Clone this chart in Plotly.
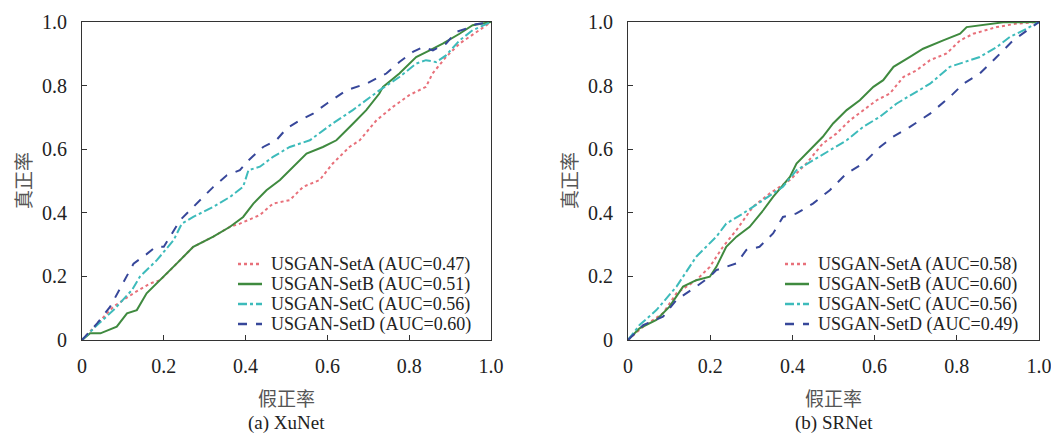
import plotly.graph_objects as go

# ---------- data: (a) XuNet ----------
xu_a_fpr = [0, 0.037, 0.077, 0.126, 0.167, 0.191, 0.232, 0.272, 0.321, 0.362, 0.386, 0.435, 0.467, 0.508, 0.541, 0.581, 0.613, 0.654, 0.679, 0.72, 0.76, 0.8, 0.841, 0.857, 0.89, 0.923, 0.971, 1]
xu_a_tpr = [0, 0.05, 0.105, 0.147, 0.178, 0.188, 0.241, 0.293, 0.325, 0.356, 0.366, 0.393, 0.429, 0.44, 0.482, 0.503, 0.555, 0.607, 0.628, 0.691, 0.733, 0.77, 0.796, 0.838, 0.89, 0.932, 0.974, 1]
xu_b_fpr = [0, 0.02, 0.045, 0.085, 0.11, 0.134, 0.158, 0.191, 0.232, 0.272, 0.321, 0.362, 0.394, 0.419, 0.451, 0.484, 0.516, 0.549, 0.589, 0.622, 0.663, 0.695, 0.727, 0.736, 0.776, 0.817, 0.85, 0.882, 0.923, 0.955, 1]
xu_b_tpr = [0, 0.021, 0.021, 0.042, 0.084, 0.094, 0.147, 0.188, 0.241, 0.293, 0.325, 0.356, 0.387, 0.429, 0.471, 0.503, 0.545, 0.586, 0.607, 0.628, 0.681, 0.723, 0.775, 0.796, 0.838, 0.89, 0.911, 0.932, 0.963, 0.99, 1]
xu_c_fpr = [0, 0.037, 0.077, 0.122, 0.142, 0.183, 0.224, 0.244, 0.272, 0.321, 0.362, 0.394, 0.407, 0.435, 0.467, 0.508, 0.557, 0.613, 0.662, 0.695, 0.727, 0.776, 0.817, 0.841, 0.866, 0.89, 0.923, 0.955, 1]
xu_c_tpr = [0, 0.047, 0.094, 0.157, 0.2, 0.251, 0.314, 0.366, 0.387, 0.419, 0.45, 0.482, 0.534, 0.545, 0.576, 0.607, 0.628, 0.681, 0.723, 0.754, 0.785, 0.827, 0.869, 0.88, 0.874, 0.895, 0.942, 0.974, 1]
xu_d_fpr = [0, 0.037, 0.069, 0.11, 0.126, 0.158, 0.18, 0.2, 0.22, 0.24, 0.289, 0.32, 0.354, 0.386, 0.407, 0.443, 0.475, 0.5, 0.533, 0.565, 0.598, 0.646, 0.695, 0.744, 0.776, 0.809, 0.833, 0.858, 0.89, 0.915, 0.939, 0.963, 1]
xu_d_tpr = [0, 0.052, 0.105, 0.2, 0.24, 0.27, 0.293, 0.293, 0.335, 0.377, 0.44, 0.48, 0.518, 0.534, 0.565, 0.607, 0.628, 0.665, 0.691, 0.712, 0.743, 0.785, 0.806, 0.838, 0.874, 0.906, 0.921, 0.911, 0.932, 0.969, 0.979, 0.993, 1]

# ---------- data: (b) SRNet ----------
sr_a_fpr = [0, 0.037, 0.085, 0.118, 0.166, 0.199, 0.231, 0.264, 0.304, 0.345, 0.394, 0.434, 0.474, 0.507, 0.54, 0.572, 0.605, 0.637, 0.67, 0.702, 0.735, 0.775, 0.808, 0.84, 0.897, 0.946, 1]
sr_a_tpr = [0, 0.042, 0.084, 0.147, 0.188, 0.23, 0.293, 0.346, 0.419, 0.461, 0.503, 0.555, 0.618, 0.649, 0.691, 0.723, 0.754, 0.775, 0.827, 0.848, 0.88, 0.901, 0.942, 0.963, 0.984, 0.995, 1]
sr_b_fpr = [0, 0.028, 0.069, 0.101, 0.134, 0.166, 0.199, 0.215, 0.239, 0.264, 0.296, 0.329, 0.353, 0.394, 0.41, 0.45, 0.474, 0.499, 0.532, 0.564, 0.597, 0.621, 0.646, 0.686, 0.718, 0.767, 0.808, 0.824, 0.864, 0.913, 1]
sr_b_tpr = [0, 0.037, 0.063, 0.105, 0.168, 0.188, 0.199, 0.23, 0.293, 0.325, 0.356, 0.408, 0.45, 0.513, 0.555, 0.607, 0.639, 0.681, 0.723, 0.754, 0.796, 0.817, 0.859, 0.89, 0.916, 0.942, 0.963, 0.984, 0.99, 0.999, 1]
sr_c_fpr = [0, 0.028, 0.069, 0.118, 0.166, 0.215, 0.239, 0.28, 0.329, 0.377, 0.41, 0.45, 0.491, 0.532, 0.572, 0.613, 0.653, 0.694, 0.735, 0.783, 0.816, 0.856, 0.897, 0.929, 0.97, 1]
sr_c_tpr = [0, 0.047, 0.094, 0.168, 0.262, 0.325, 0.366, 0.398, 0.44, 0.482, 0.534, 0.565, 0.597, 0.628, 0.67, 0.702, 0.743, 0.775, 0.806, 0.859, 0.874, 0.89, 0.921, 0.953, 0.979, 1]
sr_d_fpr = [0, 0.037, 0.085, 0.118, 0.166, 0.199, 0.215, 0.264, 0.288, 0.32, 0.353, 0.377, 0.41, 0.45, 0.491, 0.532, 0.572, 0.613, 0.645, 0.686, 0.735, 0.783, 0.816, 0.856, 0.897, 0.937, 1]
sr_d_tpr = [0, 0.047, 0.073, 0.126, 0.168, 0.199, 0.22, 0.241, 0.283, 0.293, 0.335, 0.387, 0.398, 0.429, 0.471, 0.524, 0.555, 0.607, 0.639, 0.67, 0.712, 0.764, 0.806, 0.838, 0.89, 0.942, 1]

xu_names = ["USGAN-SetA (AUC=0.47)", "USGAN-SetB (AUC=0.51)", "USGAN-SetC (AUC=0.56)", "USGAN-SetD (AUC=0.60)"]
sr_names = ["USGAN-SetA (AUC=0.58)", "USGAN-SetB (AUC=0.60)", "USGAN-SetC (AUC=0.56)", "USGAN-SetD (AUC=0.49)"]
tick_vals = [0, 0.2, 0.4, 0.6, 0.8, 1.0]
tick_text = ["0", "0.2", "0.4", "0.6", "0.8", "1.0"]
x_title = "假正率"
y_title = "真正率"
subtitles = ["(a) XuNet", "(b) SRNet"]

colors = ["#E8707A", "#3F8A3F", "#3DBBBB", "#37479A"]
dashes = ["dot", "solid", "dashdot", "dash"]

fig = go.Figure()
xu_data = [(xu_a_fpr, xu_a_tpr), (xu_b_fpr, xu_b_tpr), (xu_c_fpr, xu_c_tpr), (xu_d_fpr, xu_d_tpr)]
sr_data = [(sr_a_fpr, sr_a_tpr), (sr_b_fpr, sr_b_tpr), (sr_c_fpr, sr_c_tpr), (sr_d_fpr, sr_d_tpr)]
for i, (xs, ys) in enumerate(xu_data):
    fig.add_trace(go.Scatter(x=xs, y=ys, mode="lines", name=xu_names[i],
                             line=dict(color=colors[i], dash=dashes[i], width=2),
                             xaxis="x", yaxis="y", showlegend=False))
for i, (xs, ys) in enumerate(sr_data):
    fig.add_trace(go.Scatter(x=xs, y=ys, mode="lines", name=sr_names[i],
                             line=dict(color=colors[i], dash=dashes[i], width=2),
                             xaxis="x2", yaxis="y2", showlegend=False))

# the page body has an 8px margin, so the figure is 8px smaller and shifted
OFF = 8
W, H = 1059 - OFF, 438 - OFF
serif = "Liberation Serif"
cjk = "Noto Sans CJK SC"
def py(px):
    return (H - (px - OFF)) / H
def pxx(px):
    return (px - OFF) / W

y_dom = [py(340), py(22)]
dom1 = [pxx(82), pxx(491)]
dom2 = [pxx(628), pxx(1039)]

axis_common = dict(range=[0, 1], tickvals=tick_vals, ticktext=tick_text, ticks="inside", ticklen=5,
                   tickcolor="#333", showline=True, linecolor="#333", linewidth=1, mirror=True,
                   showgrid=False, zeroline=False, automargin=False,
                   tickfont=dict(family=serif, size=20, color="#222"))

fig.update_layout(
    width=W, height=H, margin=dict(l=0, r=0, t=0, b=0, autoexpand=False),
    paper_bgcolor="white", plot_bgcolor="white",
    font=dict(family=serif, size=20, color="#222"),
    xaxis=dict(domain=dom1, anchor="y", ticklabelstandoff=8, **axis_common),
    yaxis=dict(domain=y_dom, anchor="x", ticklabelstandoff=10, **axis_common),
    xaxis2=dict(domain=dom2, anchor="y2", ticklabelstandoff=8, **axis_common),
    yaxis2=dict(domain=y_dom, anchor="x2", ticklabelstandoff=10, **axis_common),
    showlegend=False,
)

annos = []
shapes = []
legend_rows = [264, 284, 304, 324]
for k, (dom, sub, names, lx0, lx1, tx) in enumerate([
        (dom1, subtitles[0], xu_names, 238, 262, 270),
        (dom2, subtitles[1], sr_names, 785, 809, 817)]):
    cx = (dom[0] + dom[1]) / 2
    annos.append(dict(text=x_title, x=cx, y=py(397), xref="paper", yref="paper",
                      showarrow=False, font=dict(family=cjk, size=19, color="#555"),
                      xanchor="center", yanchor="middle"))
    annos.append(dict(text=sub, x=cx, y=py(423), xref="paper", yref="paper",
                      showarrow=False, font=dict(family=serif, size=19, color="#222"),
                      xanchor="center", yanchor="middle"))
    annos.append(dict(text=y_title, x=(dom[0] * W - 59) / W, y=(y_dom[0] + y_dom[1]) / 2,
                      xref="paper", yref="paper", textangle=-90, showarrow=False,
                      font=dict(family=cjk, size=19, color="#555"), borderpad=0,
                      xanchor="center", yanchor="middle"))
    # legend (drawn manually to match the tight row spacing)
    for i, name in enumerate(names):
        yy = py(legend_rows[i])
        shapes.append(dict(type="line", xref="paper", yref="paper", x0=pxx(lx0), x1=pxx(lx1),
                           y0=yy, y1=yy, line=dict(color=colors[i], dash=dashes[i], width=2.5)))
        annos.append(dict(text=name, x=pxx(tx), y=yy, xref="paper", yref="paper",
                          showarrow=False, font=dict(family=serif, size=18, color="#222"),
                          xanchor="left", yanchor="middle", borderpad=0))
fig.update_layout(annotations=annos, shapes=shapes)

fig.write_html("out.html")
